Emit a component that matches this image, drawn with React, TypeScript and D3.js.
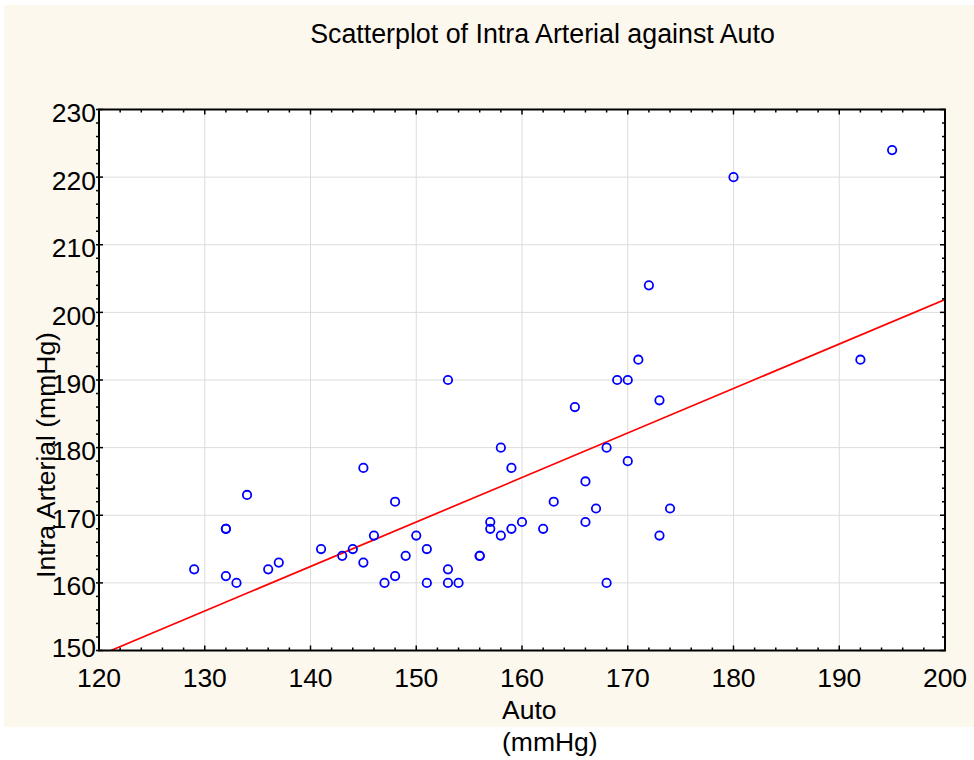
import React from "react";
import * as d3 from "d3";

const autoValues: number[] = [
  129, 132, 132, 132, 133, 134, 136, 137, 141, 143, 144, 145, 145, 146, 147, 148, 148, 149, 150, 151, 151,
  153, 153, 153, 154, 156, 156, 157, 157, 158, 158, 159, 159, 160, 162, 163, 165, 166, 166, 167, 168, 168,
  169, 170, 170, 171, 172, 173, 173, 174, 180, 192, 195,
];
const intraValues: number[] = [
  162, 168, 168, 161, 160, 173, 162, 163, 165, 164, 165, 163, 177, 167, 160, 172, 161, 164, 167, 165, 160,
  190, 162, 160, 160, 164, 164, 169, 168, 180, 167, 177, 168, 169, 168, 172, 186, 175, 169, 171, 180, 160,
  190, 190, 178, 193, 204, 187, 167, 171, 220, 193, 224,
];
const xTicks: number[] = [120, 130, 140, 150, 160, 170, 180, 190, 200];
const yTicks: number[] = [150, 160, 170, 180, 190, 200, 210, 220, 230];
const fitIntercept = 70.3;
const fitSlope = 0.658;
const titleText = "Scatterplot of Intra Arterial against Auto";
const xTitle = "Auto";
const xUnit = "(mmHg)";
const yTitle = "Intra Arterial (mmHg)";

const W = 974;
const H = 760;
const L = 99;
const R = 945;
const T = 109.5;
const B = 650.5;
const FONT = "'Liberation Sans', Arial, sans-serif";
const FS = 26.5;

export default function App() {
  const x = d3.scaleLinear().domain([120, 200]).range([L, R]);
  const y = d3.scaleLinear().domain([150, 230]).range([B, T]);
  const minorX = d3.range(120, 200.01, 2).filter((v) => v % 10 !== 0);
  const minorY = d3.range(150, 230.01, 2).filter((v) => v % 10 !== 0);
  const xStart = (150 - fitIntercept) / fitSlope;
  const fitLine = d3
    .line<number>()
    .x((v) => x(v))
    .y((v) => y(fitIntercept + fitSlope * v))([xStart, 200]);
  const pts = d3.zip(autoValues, intraValues);

  return (
    <svg
      width={W}
      height={H}
      style={{ position: "absolute", left: 0, top: 0, background: "#fff" }}
      fontFamily={FONT}
    >
      <rect x={4} y={5} width={W - 4} height={722} fill="#FDF8EE" />
      <rect x={L} y={T} width={R - L} height={B - T} fill="#fff" />
      {xTicks.slice(1, -1).map((v) => (
        <line key={"gx" + v} x1={x(v)} x2={x(v)} y1={T} y2={B} stroke="#DCDCDC" strokeWidth={1} />
      ))}
      {yTicks.slice(1, -1).map((v) => (
        <line key={"gy" + v} x1={L} x2={R} y1={y(v)} y2={y(v)} stroke="#DCDCDC" strokeWidth={1} />
      ))}
      <defs>
        <clipPath id="clip">
          <rect x={L} y={T} width={R - L} height={B - T} />
        </clipPath>
      </defs>
      <g clipPath="url(#clip)">
        <path d={fitLine || ""} fill="none" stroke="#FF0000" strokeWidth={1.7} />
      </g>
      {pts.map(([a, b], i) => (
        <circle key={i} cx={x(a)} cy={y(b)} r={4.2} fill="none" stroke="#0000FF" strokeWidth={1.8} />
      ))}
      {xTicks.map((v) => (
        <g key={"tx" + v}>
          <line x1={x(v)} x2={x(v)} y1={B} y2={B - 5} stroke="#000" strokeWidth={1.5} />
          <line x1={x(v)} x2={x(v)} y1={T} y2={T + 5} stroke="#000" strokeWidth={1.5} />
        </g>
      ))}
      {minorX.map((v) => (
        <g key={"mx" + v}>
          <line x1={x(v)} x2={x(v)} y1={B} y2={B - 3} stroke="#000" strokeWidth={1.5} />
          <line x1={x(v)} x2={x(v)} y1={T} y2={T + 3} stroke="#000" strokeWidth={1.5} />
        </g>
      ))}
      {yTicks.map((v) => (
        <g key={"ty" + v}>
          <line x1={L - 3} x2={L + 4} y1={y(v)} y2={y(v)} stroke="#000" strokeWidth={1.5} />
          <line x1={R} x2={R - 5} y1={y(v)} y2={y(v)} stroke="#000" strokeWidth={1.5} />
        </g>
      ))}
      {minorY.map((v) => (
        <g key={"my" + v}>
          <line x1={L - 3} x2={L} y1={y(v)} y2={y(v)} stroke="#000" strokeWidth={1.5} />
          <line x1={R} x2={R - 3} y1={y(v)} y2={y(v)} stroke="#000" strokeWidth={1.5} />
        </g>
      ))}
      <rect x={L} y={T} width={R - L} height={B - T} fill="none" stroke="#000" strokeWidth={2} />
      {xTicks.map((v) => (
        <text key={"lx" + v} x={x(v)} y={687} textAnchor="middle" fontSize={FS} fill="#000">
          {v}
        </text>
      ))}
      {yTicks.map((v) => (
        <text
          key={"ly" + v}
          x={96}
          y={Math.min(y(v) + 12.5, 657)}
          textAnchor="end"
          fontSize={FS}
          fill="#000"
        >
          {v}
        </text>
      ))}
      <text x={542.5} y={43} textAnchor="middle" fontSize={26.8} fill="#000">
        {titleText}
      </text>
      <text x={502} y={719} fontSize={FS} fill="#000">
        {xTitle}
      </text>
      <text x={502} y={751} fontSize={FS} fill="#000">
        {xUnit}
      </text>
      <text
        transform={`translate(55,455) rotate(-90)`}
        textAnchor="middle"
        fontSize={FS}
        fill="#000"
      >
        {yTitle}
      </text>
    </svg>
  );
}
